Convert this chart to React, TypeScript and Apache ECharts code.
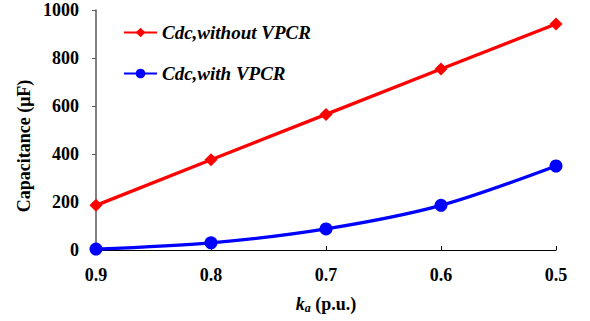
import React, { useEffect, useRef } from "react";
import * as echarts from "echarts";

const categories = ["0.9", "0.8", "0.7", "0.6", "0.5"];
const withoutVPCR = [186, 376, 565, 754, 942];
const withVPCR = [4, 30, 88, 186, 350];
const yTicks = { min: 0, max: 1000, interval: 200 };

const FONT = "'Liberation Serif', 'Times New Roman', serif";

export default function App() {
  const ref = useRef<HTMLDivElement>(null);
  useEffect(() => {
    if (!ref.current) return;
    const chart = echarts.init(ref.current, undefined, { renderer: "svg" });
    chart.setOption({
      animation: false,
      backgroundColor: "#fff",
      textStyle: { fontFamily: FONT },
      grid: { left: 96, right: 34, top: 10, bottom: 71, containLabel: false, outerBoundsMode: "none" },
      legend: {
        orient: "vertical",
        left: 123,
        top: 23,
        padding: 0,
        itemWidth: 33,
        itemHeight: 12,
        itemGap: 22,
        textStyle: { fontFamily: FONT, fontSize: 19, fontWeight: "bold", fontStyle: "italic", color: "#000" },
        data: ["Cdc,without VPCR", "Cdc,with VPCR"],
      },
      xAxis: {
        type: "category",
        data: categories,
        boundaryGap: false,
        axisLine: { lineStyle: { color: "#000", width: 1 } },
        axisTick: { inside: true, length: 4, lineStyle: { color: "#000" } },
        axisLabel: { fontFamily: FONT, fontSize: 18, fontWeight: "bold", color: "#000", margin: 16 },
        name: "{k|k}{a|a}{n| (p.u.)}",
        nameLocation: "middle",
        nameGap: 43,
        nameMoveOverlap: false,
        nameTextStyle: {
          rich: {
            k: { fontFamily: FONT, fontSize: 18, fontWeight: "bold", fontStyle: "italic", color: "#000" },
            a: { fontFamily: FONT, fontSize: 12, fontWeight: "bold", fontStyle: "italic", color: "#000", padding: [9, 0, 0, 0] },
            n: { fontFamily: FONT, fontSize: 18, fontWeight: "bold", color: "#000" },
          },
        },
      },
      yAxis: {
        type: "value",
        min: yTicks.min,
        max: yTicks.max,
        interval: yTicks.interval,
        axisLine: { show: true, lineStyle: { color: "#595959", width: 1.5 } },
        axisTick: { show: true, length: 4, lineStyle: { color: "#595959" } },
        splitLine: { show: false },
        axisLabel: {
          fontFamily: FONT,
          fontSize: 18,
          lineHeight: 16,
          fontWeight: "bold",
          color: "#000",
          margin: 17,
          formatter: (v: number) => String(v),
        },
      },
      graphic: [
        {
          type: "text",
          x: 24,
          y: 146,
          rotation: Math.PI / 2,
          style: {
            text: "Capacitance (μF)",
            fontFamily: FONT,
            fontSize: 18,
            fontWeight: "bold",
            fill: "#000",
            textAlign: "center",
            textVerticalAlign: "middle",
          },
        },
      ],
      series: [
        {
          name: "Cdc,without VPCR",
          type: "line",
          data: withoutVPCR,
          symbol: "diamond",
          symbolSize: 13,
          itemStyle: { color: "#ff0000" },
          lineStyle: { color: "#ff0000", width: 3.3 },
        },
        {
          name: "Cdc,with VPCR",
          type: "line",
          data: withVPCR,
          smooth: 0.3,
          symbol: "circle",
          symbolSize: 13,
          itemStyle: { color: "#0000ff" },
          lineStyle: { color: "#0000ff", width: 3.3 },
        },
      ],
    });
    return () => chart.dispose();
  }, []);
  return <div ref={ref} style={{ width: 590, height: 321, position: "absolute", left: 0, top: 0 }} />;
}
